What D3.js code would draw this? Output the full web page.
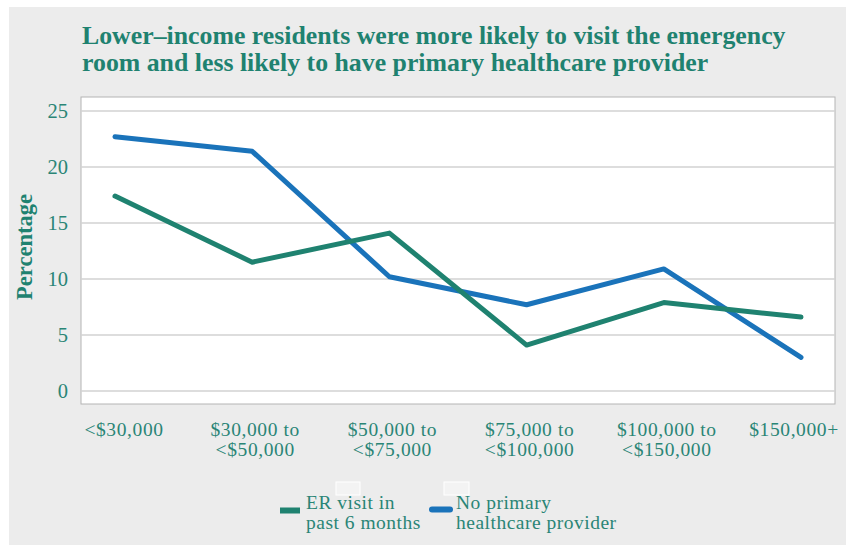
<!DOCTYPE html>
<html>
<head>
<meta charset="utf-8">
<script src="https://cdn.jsdelivr.net/npm/d3@7"></script>
<style>
  html, body { margin: 0; padding: 0; background: #ffffff; }
  svg { display: block; }
</style>
</head>
<body>
<svg id="chart" width="846" height="545"></svg>
<script>
// Income brackets along the x axis (two-line labels)
const categories = [
  ["<$30,000"],
  ["$30,000 to", "<$50,000"],
  ["$50,000 to", "<$75,000"],
  ["$75,000 to", "<$100,000"],
  ["$100,000 to", "<$150,000"],
  ["$150,000+"]
];
// Percent of residents, by income bracket
const erVisit = [17.4, 11.5, 14.1, 4.1, 7.9, 6.6];
const noProvider = [22.7, 21.4, 10.2, 7.7, 10.9, 3.0];
const yTicks = [0, 5, 10, 15, 20, 25];

const seriesNames = [["ER visit in", "past 6 months"], ["No primary", "healthcare provider"]];
const teal = "#1f8270";
const blue = "#1a73ba";
const textTeal = "#2a8576";
const serif = "'Liberation Serif', Tinos, 'Times New Roman', 'DejaVu Serif', serif";

const svg = d3.select("#chart").attr("font-family", serif);

// Page background panel
svg.append("rect").attr("x", 9).attr("y", 7).attr("width", 837).attr("height", 538)
  .attr("fill", "#ececec");

// Title
const title = svg.append("text")
  .attr("fill", teal).attr("font-weight", "bold").attr("font-size", 25.8);
title.append("tspan").attr("x", 82).attr("y", 44)
  .text("Lower–income residents were more likely to visit the emergency");
title.append("tspan").attr("x", 82).attr("y", 71)
  .text("room and less likely to have primary healthcare provider");

// Plot box
const box = { left: 81, top: 97, right: 835, bottom: 404 };
svg.append("rect").attr("x", box.left).attr("y", box.top)
  .attr("width", box.right - box.left).attr("height", box.bottom - box.top)
  .attr("fill", "#ffffff").attr("stroke", "#b4b4b4").attr("stroke-width", 1);

const x = d3.scalePoint().domain(d3.range(categories.length)).range([115, 801]);
const y = d3.scaleLinear().domain([0, 25]).range([391, 111]);

// Horizontal gridlines
svg.append("g").selectAll("line").data(yTicks).join("line")
  .attr("x1", box.left).attr("x2", box.right)
  .attr("y1", d => y(d)).attr("y2", d => y(d))
  .attr("stroke", "#d2d2d2").attr("stroke-width", 1.5);

// Y axis tick labels
const yAxis = d3.axisLeft(y).tickValues(yTicks).tickSize(0).tickPadding(0);
const yg = svg.append("g").attr("transform", "translate(68,0)").call(yAxis)
  .attr("font-family", serif).attr("font-size", 20.5);
yg.select(".domain").remove();
yg.selectAll("text").attr("fill", textTeal).attr("dy", "0.3em");

// Y axis title
svg.append("text")
  .attr("transform", "translate(32,247) rotate(-90)")
  .attr("text-anchor", "middle").attr("fill", teal)
  .attr("font-weight", "bold").attr("font-size", 22.5)
  .text("Percentage");

// X axis category labels
const xg = svg.append("g");
categories.forEach((lines, i) => {
  const t = xg.append("text").attr("text-anchor", "middle")
    .attr("fill", textTeal).attr("font-size", 19.5).attr("letter-spacing", 0.6);
  let cx = x(i) + 3;
  if (i === 0) cx = x(i) + 9;
  if (i === categories.length - 1) cx = x(i) - 7;
  lines.forEach((s, j) => {
    t.append("tspan").attr("x", cx).attr("y", 436 + j * 20).text(s);
  });
});

// Lines
const line = d3.line().x((d, i) => x(i)).y(d => y(d));
[[noProvider, blue], [erVisit, teal]].forEach(([vals, color]) => {
  svg.append("path").datum(vals)
    .attr("d", line).attr("fill", "none")
    .attr("stroke", color).attr("stroke-width", 5)
    .attr("stroke-linejoin", "round").attr("stroke-linecap", "round");
});

// Legend
const legend = svg.append("g");
legend.append("rect").attr("x", 336).attr("y", 482).attr("width", 24).attr("height", 13)
  .attr("fill", "#f3f3f3").attr("stroke", "#ffffff").attr("stroke-width", 1);
legend.append("rect").attr("x", 444).attr("y", 482).attr("width", 25).attr("height", 13)
  .attr("fill", "#f3f3f3").attr("stroke", "#ffffff").attr("stroke-width", 1);

legend.append("rect").attr("x", 280).attr("y", 507.5).attr("width", 20).attr("height", 6)
  .attr("fill", teal);
legend.append("line").attr("x1", 432).attr("x2", 450).attr("y1", 509.5).attr("y2", 509.5)
  .attr("stroke", blue).attr("stroke-width", 6).attr("stroke-linecap", "round");

const legendX = [306, 456];
seriesNames.forEach((lines, i) => {
  const t = legend.append("text").attr("fill", textTeal)
    .attr("font-size", 19.5).attr("letter-spacing", 0.5);
  lines.forEach((s, j) => {
    t.append("tspan").attr("x", legendX[i]).attr("y", 509 + j * 20).text(s);
  });
});
</script>
</body>
</html>
